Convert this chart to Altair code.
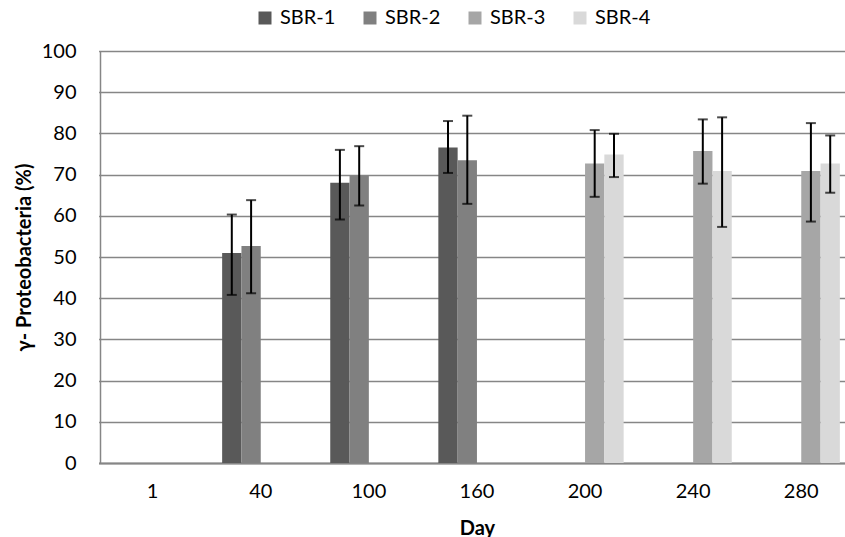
import altair as alt
import pandas as pd

days = ["1", "40", "100", "160", "200", "240", "280"]
series = ["SBR-1", "SBR-2", "SBR-3", "SBR-4"]
colors = ["#595959", "#808080", "#a6a6a6", "#d9d9d9"]

sbr1 = [None, 51.0, 68.0, 76.6, None, None, None]
sbr1_lo = [None, 40.8, 59.1, 70.4, None, None, None]
sbr1_hi = [None, 60.3, 76.0, 83.0, None, None, None]

sbr2 = [None, 52.7, 69.8, 73.5, None, None, None]
sbr2_lo = [None, 41.2, 62.5, 62.9, None, None, None]
sbr2_hi = [None, 63.8, 76.9, 84.3, None, None, None]

sbr3 = [None, None, None, None, 72.7, 75.7, 70.9]
sbr3_lo = [None, None, None, None, 64.6, 67.8, 58.6]
sbr3_hi = [None, None, None, None, 80.8, 83.4, 82.5]

sbr4 = [None, None, None, None, 74.9, 70.9, 72.7]
sbr4_lo = [None, None, None, None, 69.4, 57.3, 65.6]
sbr4_hi = [None, None, None, None, 79.9, 83.9, 79.5]

rows = []
for name, vals, los, his in [
    ("SBR-1", sbr1, sbr1_lo, sbr1_hi),
    ("SBR-2", sbr2, sbr2_lo, sbr2_hi),
    ("SBR-3", sbr3, sbr3_lo, sbr3_hi),
    ("SBR-4", sbr4, sbr4_lo, sbr4_hi),
]:
    for d, v, lo, hi in zip(days, vals, los, his):
        if v is not None:
            rows.append({"Day": d, "Series": name, "value": v, "lo": lo, "hi": hi})
df = pd.DataFrame(rows)

FONT = "Lato"
GRID = "#868686"

x_enc = alt.X(
    "Day:N",
    sort=days,
    scale=alt.Scale(domain=days, range=[-1.4, 755.3], paddingInner=0, paddingOuter=0),
    axis=alt.Axis(
        title="Day",
        labelAngle=0,
        labelFont=FONT,
        labelFontSize=20,
        labelColor="#000000",
        labelPadding=18,
        ticks=False,
        domainColor=GRID,
        domainWidth=2,
        titleFont=FONT,
        titleFontSize=20,
        titleFontWeight="bold",
        titleColor="#000000",
        titlePadding=17,
    ),
)
xoff_enc = alt.XOffset(
    "Series:N",
    scale=alt.Scale(domain=series, paddingInner=0, paddingOuter=0.8),
)

base = alt.Chart(df)

bars = base.mark_bar().encode(
    x=x_enc,
    xOffset=xoff_enc,
    y=alt.Y(
        "value:Q",
        scale=alt.Scale(domain=[0, 100], nice=False),
        axis=alt.Axis(
            title="γ- Proteobacteria (%)",
            values=list(range(0, 101, 10)),
            labelFont=FONT,
            labelFontSize=20,
            labelColor="#000000",
            labelPadding=24,
            ticks=False,
            grid=True,
            gridColor=GRID,
            gridWidth=1.5,
            domainColor=GRID,
            domainWidth=1.5,
            titleFont=FONT,
            titleFontSize=20,
            titleFontWeight="bold",
            titleColor="#000000",
            titlePadding=7,
        ),
    ),
    color=alt.Color(
        "Series:N",
        scale=alt.Scale(domain=series, range=colors),
        legend=alt.Legend(
            title=None,
            orient="none",
            direction="horizontal",
            legendX=155,
            legendY=-43,
            symbolType="square",
            symbolSize=169,
            symbolStrokeWidth=0,
            labelFont=FONT,
            labelFontSize=20,
            labelColor="#000000",
            labelOffset=5,
            columnPadding=24,
        ),
    ),
)

rules = base.mark_rule(color="#000000", strokeWidth=2).encode(
    x=x_enc, xOffset=xoff_enc, y="lo:Q", y2="hi:Q"
)
cap_lo = base.mark_tick(color="#000000", size=10, thickness=2).encode(
    x=x_enc, xOffset=xoff_enc, y="lo:Q"
)
cap_hi = base.mark_tick(color="#000000", size=10, thickness=2).encode(
    x=x_enc, xOffset=xoff_enc, y="hi:Q"
)

chart = (
    alt.layer(bars, rules, cap_lo, cap_hi)
    .properties(
        width=745,
        height=412,
        autosize=alt.AutoSizeParams(type="none"),
        padding={"left": 100, "top": 51, "right": 0, "bottom": 74},
    )
    .configure_view(stroke=None)
    .configure(background="#ffffff")
)

chart.save("out.html", embed_options={"renderer": "svg", "actions": False})
